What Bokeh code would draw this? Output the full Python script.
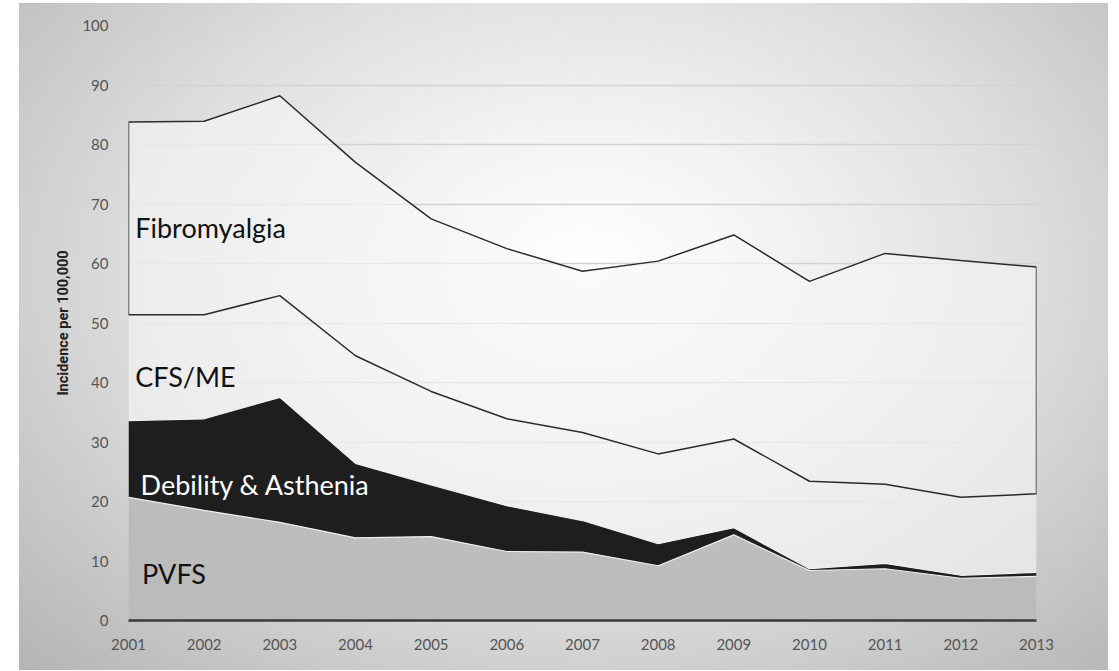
import numpy as np
from bokeh.plotting import figure
from bokeh.models import Label, FixedTicker
from bokeh.embed import file_html
from bokeh.resources import INLINE

# ---- data (incidence per 100,000, individual series, stacked bottom to top) ----
years = [2001, 2002, 2003, 2004, 2005, 2006, 2007, 2008, 2009, 2010, 2011, 2012, 2013]
pvfs = [20.7, 18.5, 16.5, 13.9, 14.1, 11.6, 11.5, 9.2, 14.4, 8.4, 8.7, 7.1, 7.4]
debility = [12.9, 15.4, 21.0, 12.5, 8.7, 7.7, 5.3, 3.7, 1.2, 0.3, 0.9, 0.5, 0.7]
cfs_me = [17.8, 17.5, 17.1, 18.1, 15.7, 14.6, 14.8, 15.1, 14.9, 14.7, 13.3, 13.1, 13.2]
fibromyalgia = [32.4, 32.5, 33.6, 32.5, 29.0, 28.6, 27.1, 32.4, 34.3, 33.6, 38.8, 39.8, 38.1]
series_names = ["PVFS", "Debility & Asthenia", "CFS/ME", "Fibromyalgia"]
y_ticks = [0, 10, 20, 30, 40, 50, 60, 70, 80, 90, 100]

x = np.array(years, dtype=float)
stack = np.cumsum(np.array([pvfs, debility, cfs_me, fibromyalgia]), axis=0)
base = np.zeros_like(x)
top_pvfs, top_deb, top_cfs, top_fib = stack

p = figure(width=1089, height=667, x_range=(2001, 2013), y_range=(0, 100),
           output_backend="svg", toolbar_location=None,
           min_border_left=109, min_border_right=72, min_border_top=22, min_border_bottom=50)
p.margin = (3, 0, 0, 19)
p.border_fill_color = None
p.background_fill_color = None
p.outline_line_color = None
p.styles = {"background": "radial-gradient(ellipse farthest-corner at 52% 40%, #ffffff 0%, #f3f3f3 25%, #dedede 55%, #b4b4b4 100%)"}

# areas
p.varea(x=x, y1=base, y2=top_pvfs, fill_color="#bababa", fill_alpha=0.92)
p.varea(x=x, y1=top_pvfs, y2=top_deb, fill_color="#1e1e1e")
p.varea(x=x, y1=top_deb, y2=top_cfs, fill_color="#f6f6f6", fill_alpha=0.6)
p.patch(x=np.concatenate([x, x[::-1]]), y=np.concatenate([top_fib, top_cfs[::-1]]),
        fill_color="#f6f6f6", fill_alpha=0.6, line_color="#2b2b2b", line_width=1.5)
p.line(x=x, y=top_pvfs, line_color="#f0f0f0", line_width=1.2)
p.line(x=x, y=top_deb, line_color="#f0f0f0", line_width=1.2)

# axes
p.xaxis.ticker = FixedTicker(ticks=years)
p.yaxis.ticker = FixedTicker(ticks=y_ticks)
for ax in (p.xaxis[0], p.yaxis[0]):
    ax.major_tick_line_color = None
    ax.minor_tick_line_color = None
    ax.major_label_text_font = "Lato"
    ax.major_label_text_font_size = "15px"
    ax.major_label_text_color = "#555555"
p.xaxis.axis_line_color = "#3a3a3a"
p.xaxis.axis_line_width = 2.5
p.xaxis.major_label_standoff = 12
p.yaxis.axis_line_color = None
p.yaxis.major_label_standoff = 14
p.yaxis.axis_label = "Incidence per 100,000"
p.yaxis.axis_label_text_font = "Roboto"
p.yaxis.axis_label_text_font_style = "bold"
p.yaxis.axis_label_text_font_size = "14.5px"
p.yaxis.axis_label_text_color = "#222222"
p.yaxis.axis_label_standoff = 7
p.xgrid.grid_line_color = None
p.ygrid.grid_line_color = "#d2d2d2"
p.ygrid.grid_line_width = 1.3

# series labels
label_pos = [(2001.18, 7.9, "#111111"), (2001.16, 22.9, "#ffffff"),
             (2001.09, 41.0, "#111111"), (2001.09, 66.1, "#111111")]
for name, (lx, ly, col) in zip(series_names, label_pos):
    p.add_layout(Label(x=lx, y=ly, text=name, text_font="Lato", text_font_size="27px",
                       text_color=col, text_baseline="alphabetic"))

open("out.html", "w").write(file_html(p, INLINE))
